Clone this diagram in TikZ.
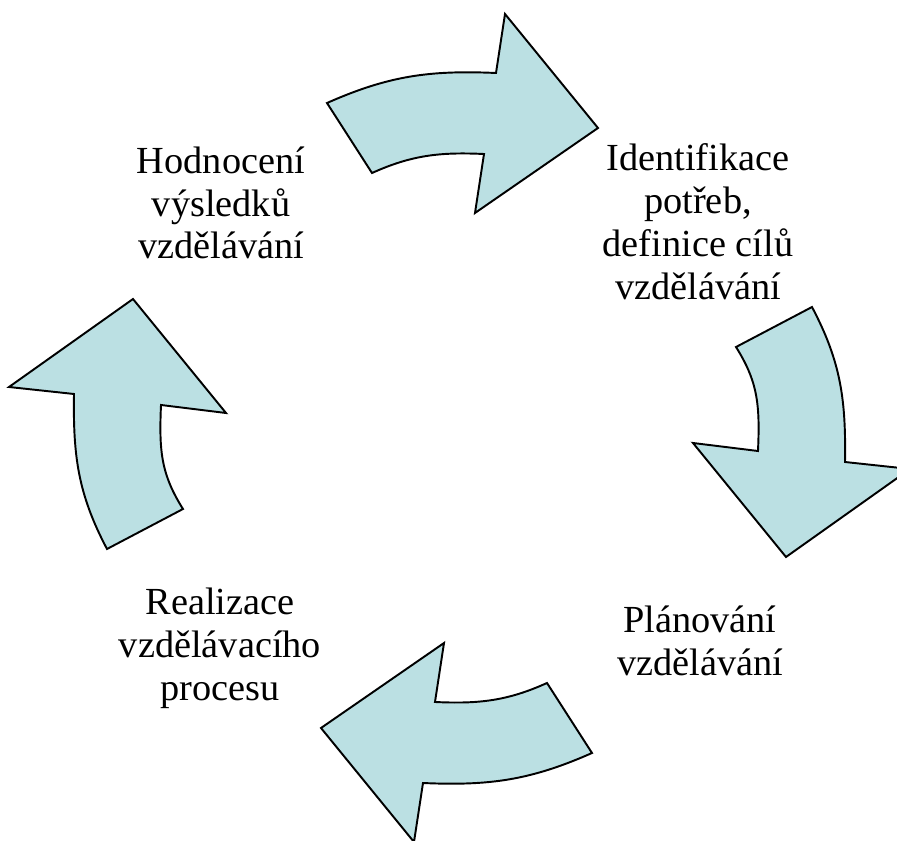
\documentclass[tikz,border=0pt]{standalone}
\usepackage{fontspec}
\setmainfont{Liberation Serif}
\definecolor{arrowblue}{RGB}{187,224,227}
\begin{document}
\begin{tikzpicture}[x=0.02cm,y=-0.02cm,
  arrowshape/.style={fill=arrowblue,draw=black,line width=1.1pt,line join=miter},
  steplabel/.style={font=\fontsize{21.8}{24.4}\selectfont,align=center}]
\clip (0,0) rectangle (897,841);
% top and right arrow, the other two are the same turned by 180 degrees
\foreach \r in {0,180}{
\begin{scope}[rotate around={\r:(459.5,428)}]
\draw[arrowshape] (327,103) .. controls (388,76) and (429,70) .. (496,73) -- (505,14) -- (598,128) -- (475,213) -- (484,154) .. controls (440,152) and (412,155) .. (372,173) -- cycle;
\draw[arrowshape] (736,347) -- (812,307) .. controls (841,362) and (846,400) .. (845,462) -- (910,469) -- (786,557) -- (693,443) -- (758,451) .. controls (760,405) and (758,382) .. (736,347) -- cycle;
\end{scope}}
\node[steplabel] (hodnoceni) at (221,203) {Hodnocení\\výsledků\\vzdělávání};
\node[steplabel] (identifikace) at (698,222) {Identifikace\\potřeb,\\definice cílů\\vzdělávání};
\node[steplabel] (planovani) at (700,641) {Plánování\\vzdělávání};
\node[steplabel] (realizace) at (220,648) {Realizace\\vzdělávacího\\procesu};
\end{tikzpicture}
\end{document}
